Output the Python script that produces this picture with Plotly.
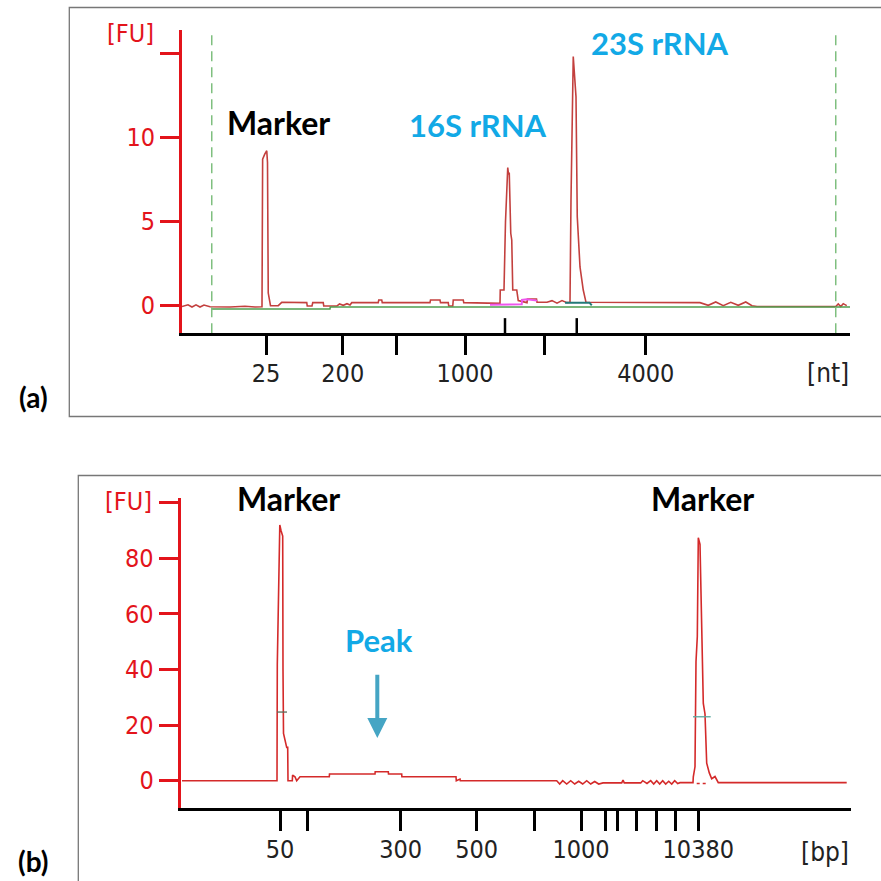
import plotly.graph_objects as go

W, H = 881, 881

# ---------------- (a) RNA electropherogram: migration time [s] vs fluorescence [FU]
rna_t = [17.00, 17.48, 17.80, 18.12, 18.44, 18.76, 19.24, 20.84, 22.04, 22.84, 23.40,
         23.45, 23.62, 23.78, 23.84, 23.90, 24.08, 24.70, 24.98, 26.98, 27.02, 27.40, 27.46,
         28.30, 28.34, 29.38, 29.60, 29.90, 30.20, 30.44, 30.58, 32.70, 32.74, 32.98, 33.02,
         36.84, 36.88, 37.64, 37.68, 38.30, 38.34, 38.66, 38.70, 39.50, 39.54, 42.44,
         42.46, 42.76, 42.88, 43.06, 43.12, 43.18, 43.30, 43.38, 43.46, 43.78, 43.90,
         44.60, 44.64, 45.36, 45.40, 46.20, 46.60, 47.00, 47.40, 47.80, 48.04,
         48.12, 48.30, 48.43, 48.52, 48.62, 48.84, 49.10, 49.32, 58.44, 59.10, 59.70,
         60.30, 60.90, 61.50, 62.10, 62.60, 63.00, 69.30, 69.50, 69.70, 69.90, 70.18]
rna_fu = [-0.05, 0.05, -0.08, 0.05, -0.08, 0.04, -0.06, -0.08, -0.03, -0.08, -0.06,
          8.70, 9.00, 9.20, 8.50, 0.75, 0.00, 0.00, 0.20, 0.18, -0.02, -0.02, 0.18,
          0.18, -0.02, -0.02, 0.10, 0.02, 0.12, 0.04, 0.18, 0.18, 0.34, 0.34, 0.18,
          0.18, 0.34, 0.34, 0.18, 0.18, -0.02, -0.02, 0.34, 0.34, 0.18, 0.14,
          0.93, 0.93, 5.00, 8.20, 7.80, 7.90, 4.30, 3.90, 0.93, 0.93, 0.30,
          0.18, 0.40, 0.40, 0.20, 0.20, 0.30, 0.15, 0.30, 0.18, 0.20,
          6.30, 14.80, 13.50, 12.40, 5.30, 2.30, 0.93, 0.20, 0.18, 0.02, 0.22,
          0.00, 0.20, 0.02, 0.22, 0.00, -0.05, -0.05, 0.10, -0.05, 0.12, 0.00]

# baseline fit and peak-region overlays
base_t = [19.40, 28.84, 28.86, 70.44]
base_fu = [-0.20, -0.20, -0.08, -0.08]
p16_t = [41.64, 44.18, 44.20, 44.60, 45.40]
p16_fu = [0.06, 0.08, 0.34, 0.38, 0.30]
p23_t = [47.64, 49.60, 49.78]
p23_fu = [0.18, 0.18, 0.02]

rna_peaks = [42.84, 48.58]          # 16S / 23S peak positions
rna_window = [19.38, 69.30]         # analysis window
rna_tick_t = [23.72, 29.86, 34.18, 39.64, 45.96, 54.10]
rna_tick_lbl = ["25", "200", "", "1000", "", "4000"]
rna_fu_ticks = [0, 5, 10, 15]
rna_fu_lbl = ["0", "5", "10", ""]

# ---------------- (b) DNA electropherogram
dna_t = [38.13, 47.63, 47.66, 47.78, 47.91, 48.03, 48.20, 48.23, 48.28, 48.60, 48.70,
         48.73, 49.16, 49.19, 49.43, 49.60, 49.93, 52.86, 52.88, 57.43, 57.45, 58.76,
         58.78, 60.10, 60.12, 65.53, 65.56, 65.93, 65.96, 75.60, 75.90, 76.20, 76.60,
         77.00, 77.40, 77.80, 78.20, 78.60, 79.00, 79.40, 79.80, 80.23, 82.10, 82.23,
         82.36, 84.00, 84.20, 84.63, 85.00, 85.30, 85.60, 85.90, 86.20, 86.50, 86.80,
         87.10, 87.40, 87.70, 87.93, 89.23, 89.26, 89.43, 89.53, 89.66, 89.76, 89.93,
         90.10, 90.26, 90.43, 90.60, 90.86, 91.10, 91.43, 91.76, 104.60]
dna_fu = [0.0, 0.0, 42.0, 75.0, 92.0, 90.0, 88.0, 40.0, 17.0, 12.0, 12.0,
          0.0, 0.0, 2.0, 1.4, 0.0, 1.4, 1.4, 2.4, 2.4, 3.2, 3.2,
          2.4, 2.4, 1.4, 1.4, 0.0, 0.6, 0.0, 0.0, -1.2, 0.0, -1.2,
          0.0, -1.2, -0.2, -1.2, 0.0, -1.2, -0.3, -1.2, -0.8, -0.8, 0.2,
          -0.8, -0.8, 0.0, -1.0, 0.0, -1.2, 0.0, -1.2, 0.0, -1.2, -0.2,
          -1.2, 0.0, -1.0, -0.7, -0.7, 1.4, 5.0, 42.8, 51.8, 87.4, 85.0,
          51.8, 27.8, 24.0, 6.3, 2.8, 0.7, 1.5, -0.7, -0.7]

dna_under_t = [89.60, 89.75, 90.10, 90.20, 90.45, 90.55]
dna_under_fu = [-1.0, -1.0, -1.0, -1.0, -1.0, -1.0]

dna_half = [[47.63, 48.63, 24.7], [89.23, 91.00, 23.0]]   # half-height bars
dna_tick_t = [47.93, 50.66, 60.00, 67.60, 73.36, 78.03, 80.50, 81.66, 83.53, 85.60, 87.43, 89.76]
dna_tick_lbl = ["50", "", "300", "500", "", "1000", "", "", "", "", "", "10380"]
dna_fu_ticks = [0, 20, 40, 60, 80, 100]
dna_fu_lbl = ["0", "20", "40", "60", "80", ""]
peak_arrow = [57.66, 38.7, 15.4]    # x, tail FU, head FU

RED_AX = "#e3141b"
TRACE_A = "#c3403e"
TRACE_B = "#d42a2a"
CYAN = "#12a9e6"
TICK_FONT = "DejaVu Sans Condensed, Liberation Sans Narrow, Roboto Condensed, DejaVu Sans"
TXT_FONT = "Lato, Open Sans, sans-serif"


def px(x):
    return x / W


def py(y):
    return 1 - y / H


fig = go.Figure()

# (a) traces
fig.add_trace(go.Scatter(x=rna_t, y=rna_fu, mode="lines", line=dict(color=TRACE_A, width=1.6),
                         xaxis="x", yaxis="y", hoverinfo="skip"))
fig.add_trace(go.Scatter(x=base_t, y=base_fu, mode="lines", line=dict(color="#4f9f4f", width=1.5),
                         xaxis="x", yaxis="y", hoverinfo="skip"))
fig.add_trace(go.Scatter(x=p16_t, y=p16_fu, mode="lines", line=dict(color="#ee55ee", width=2),
                         xaxis="x", yaxis="y", hoverinfo="skip"))
fig.add_trace(go.Scatter(x=p23_t, y=p23_fu, mode="lines", line=dict(color="#237a78", width=2),
                         xaxis="x", yaxis="y", hoverinfo="skip"))
for wx in rna_window:
    fig.add_trace(go.Scatter(x=[wx, wx], y=[-1.64, 16.3], mode="lines",
                             line=dict(color="#7fbf7f", width=1.5, dash="10px,6px"),
                             xaxis="x", yaxis="y", hoverinfo="skip"))
for pk in rna_peaks:
    fig.add_shape(type="line", xref="x", yref="y domain", x0=pk, x1=pk, y0=0, y1=0.05,
                  line=dict(color="black", width=2.5))

# (b) traces
fig.add_trace(go.Scatter(x=dna_t, y=dna_fu, mode="lines", line=dict(color=TRACE_B, width=1.6),
                         xaxis="x2", yaxis="y2", hoverinfo="skip"))
fig.add_trace(go.Scatter(x=dna_under_t, y=dna_under_fu, mode="lines",
                         line=dict(color=TRACE_B, width=1.3, dash="dot"),
                         xaxis="x2", yaxis="y2", hoverinfo="skip"))
for (x0, x1, v), c in zip(dna_half, ["#5b6b5b", "#5aa9a0"]):
    fig.add_trace(go.Scatter(x=[x0, x1], y=[v, v], mode="lines", line=dict(color=c, width=1.3),
                             xaxis="x2", yaxis="y2", hoverinfo="skip"))

axis_common = dict(showgrid=False, zeroline=False, showline=True, ticks="outside",
                   fixedrange=True)

fig.update_layout(
    width=W, height=H, autosize=False, showlegend=False,
    margin=dict(l=0, r=0, t=0, b=0),
    paper_bgcolor="white", plot_bgcolor="white",
    xaxis=dict(domain=[px(182), px(850)], range=[17.0, 70.44], anchor="y",
               tickvals=rna_tick_t, ticktext=rna_tick_lbl, linecolor="black", linewidth=3,
               tickcolor="black", tickwidth=2.5, ticklen=19, ticklabelstandoff=-3,
               tickfont=dict(family=TICK_FONT, size=25, color="#222"), **axis_common),
    yaxis=dict(domain=[py(333.3), py(30)], range=[-1.64, 16.37], anchor="x",
               tickvals=rna_fu_ticks, ticktext=rna_fu_lbl, linecolor=RED_AX, linewidth=3,
               tickcolor=RED_AX, tickwidth=3, ticklen=19, ticklabelstandoff=0,
               tickfont=dict(family=TICK_FONT, size=25, color=RED_AX), **axis_common),
    xaxis2=dict(domain=[px(180.7), px(850.7)], range=[38.0, 105.0], anchor="y2",
                tickvals=dna_tick_t, ticktext=dna_tick_lbl, linecolor="black", linewidth=3,
                tickcolor="black", tickwidth=2.5, ticklen=20, ticklabelstandoff=-3,
                tickfont=dict(family=TICK_FONT, size=25, color="#222"), **axis_common),
    yaxis2=dict(domain=[py(808.3), py(498.3)], range=[-9.93, 101.6], anchor="x2",
                tickvals=dna_fu_ticks, ticktext=dna_fu_lbl, linecolor=RED_AX, linewidth=3,
                tickcolor=RED_AX, tickwidth=3, ticklen=19, ticklabelstandoff=0,
                tickfont=dict(family=TICK_FONT, size=25, color=RED_AX), **axis_common),
)

# panel frames
fig.add_shape(type="rect", xref="paper", yref="paper", x0=px(69.3), x1=px(890),
              y0=py(416.5), y1=py(7.5), line=dict(color="#777", width=1.3), layer="below")
fig.add_shape(type="rect", xref="paper", yref="paper", x0=px(78.3), x1=px(890),
              y0=py(895), y1=py(475.5), line=dict(color="#777", width=1.3), layer="below")


def label(text, x, y, color="black", size=32, bold=True, family=TXT_FONT, xanchor="center"):
    fig.add_annotation(text=f"<b>{text}</b>" if bold else text, xref="paper", yref="paper",
                       x=px(x), y=py(y), xanchor=xanchor, yanchor="middle", showarrow=False,
                       font=dict(family=family, size=size, color=color))


label("Marker", 278, 122)
label("16S rRNA", 477.5, 125, color=CYAN, size=31)
label("23S rRNA", 659.7, 42.7, color=CYAN, size=31)
label("[FU]", 130, 33, color=RED_AX, size=25, bold=False, family=TICK_FONT)
label("[nt]", 851, 373, color="#222", size=26, bold=False, family=TICK_FONT, xanchor="right")
label("(a)", 33, 397, size=28)

label("Marker", 288.8, 498)
label("Marker", 702.8, 498)
label("Peak", 379, 640, color=CYAN, size=31)
label("[FU]", 128, 501.7, color=RED_AX, size=25, bold=False, family=TICK_FONT)
label("[bp]", 851, 851.5, color="#222", size=26, bold=False, family=TICK_FONT, xanchor="right")
label("(b)", 33, 860.7, size=28)

fig.add_annotation(x=peak_arrow[0], y=peak_arrow[2], ax=peak_arrow[0], ay=peak_arrow[1],
                   xref="x2", yref="y2", axref="x2", ayref="y2", text="", showarrow=True,
                   arrowhead=2, arrowsize=1.0, arrowwidth=4, arrowcolor="#45a5c4")

fig.write_html("out.html")
